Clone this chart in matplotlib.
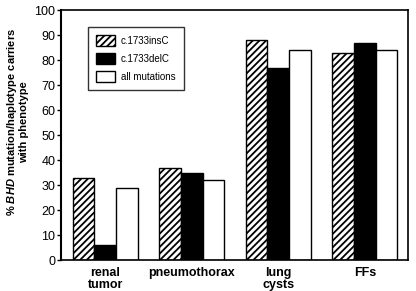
import matplotlib
matplotlib.use("Agg")
import matplotlib.pyplot as plt
import numpy as np

plt.rcParams['font.family'] = ['Liberation Sans', 'DejaVu Sans']
plt.rcParams['mathtext.fontset'] = 'custom'
plt.rcParams['mathtext.it'] = 'Liberation Sans:italic:bold'
plt.rcParams['hatch.linewidth'] = 1.3

categories = ['renal\ntumor', 'pneumothorax', 'lung\ncysts', 'FFs']
ins_c = [33, 37, 88, 83]
del_c = [6, 35, 77, 87]
all_mut = [29, 32, 84, 84]
series_names = ['c.1733insC', 'c.1733delC', 'all mutations']

fig = plt.figure(figsize=(4.16, 2.91), dpi=100)
ax = fig.add_axes([0.1466, 0.1065, 0.8344, 0.859])

x = np.arange(len(categories))
w = 0.25
ax.bar(x - w, ins_c, w, color='white', edgecolor='black', hatch='/////', linewidth=1.0, label=series_names[0])
ax.bar(x, del_c, w, color='black', edgecolor='black', linewidth=1.0, label=series_names[1])
ax.bar(x + w, all_mut, w, color='white', edgecolor='black', linewidth=1.0, label=series_names[2])

ax.set_xlim(-0.51, 3.5)
ax.set_ylim(0, 100)
ax.set_yticks(np.arange(0, 101, 10))
ax.tick_params(axis='y', length=3, width=1, labelsize=9, pad=1)
ax.set_xticks(x)
ax.set_xticklabels(categories, fontsize=9, fontweight='bold', linespacing=1.0)
ax.tick_params(axis='x', length=0, pad=5)
for s in ax.spines.values():
    s.set_linewidth(1.2)
ax.spines['left'].set_linewidth(1.5)

ax.set_ylabel('% $\\mathit{BHD}$ mutation/haplotype carriers\nwith phenotype',
              fontsize=8, fontweight='bold', linespacing=1.05)
ax.yaxis.set_label_coords(-0.092, 0.552)

leg = ax.legend(loc='upper left', bbox_to_anchor=(0.078, 0.932), fontsize=7,
                frameon=True, fancybox=False, edgecolor='black',
                handlelength=2.0, handleheight=1.4, handletextpad=0.6,
                labelspacing=0.7, borderpad=0.8, borderaxespad=0)
leg.get_frame().set_linewidth(1.0)

fig.savefig('out.png', dpi=100)
